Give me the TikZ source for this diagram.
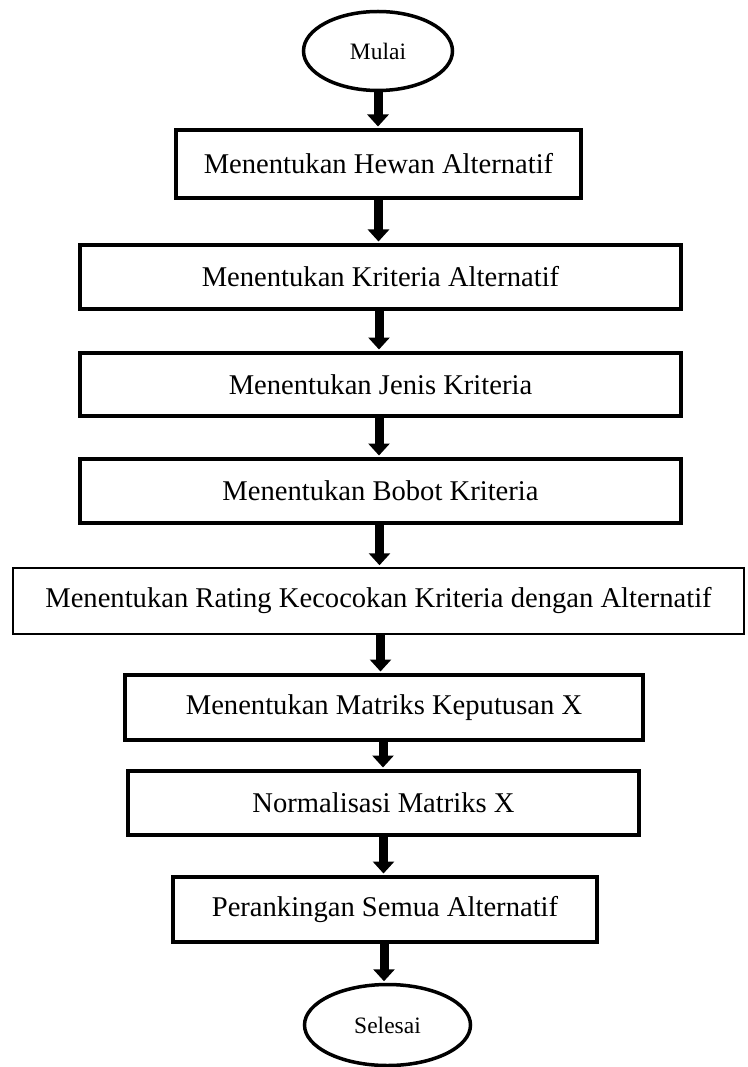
\documentclass[tikz,border=0pt]{standalone}
\usepackage{fontspec}
\setmainfont{Liberation Serif}
\usetikzlibrary{shapes.geometric,arrows.meta}
\begin{document}
\begin{tikzpicture}[x=1pt,y=-1pt,
  stepbox/.style={draw, line width=4pt, rectangle, inner sep=0pt, align=center,
    font=\fontsize{28.6}{34}\selectfont},
  thinbox/.style={draw, line width=2.5pt, rectangle, inner sep=0pt, align=center,
    font=\fontsize{28.6}{34}\selectfont},
  term/.style={draw, line width=3.5pt, ellipse, inner sep=0pt,
    font=\fontsize{23.5}{28}\selectfont},
  arr/.style={line width=9pt, -{Triangle[width=21pt,length=12pt]}, shorten >=1.5pt}
]
\useasboundingbox (0,0) rectangle (747,1067);
\fill[white] (0,0) rectangle (747,1067);

\node[term, minimum width=149pt, minimum height=79pt] (start) at (378,51) {Mulai};
\node[stepbox, minimum width=405pt, minimum height=68pt] (b1) at (378.5,164) {Menentukan Hewan Alternatif};
\node[stepbox, minimum width=601pt, minimum height=64pt] (b2) at (380.5,277) {Menentukan Kriteria Alternatif};
\node[stepbox, minimum width=601pt, minimum height=63pt] (b3) at (380.5,384.5) {Menentukan Jenis Kriteria};
\node[stepbox, minimum width=601pt, minimum height=64pt] (b4) at (380.5,491) {Menentukan Bobot Kriteria};
\node[thinbox, minimum width=731pt, minimum height=66pt] (b5) at (378.5,601) {Menentukan Rating Kecocokan Kriteria dengan Alternatif};
\node[stepbox, minimum width=518pt, minimum height=65pt] (b6) at (384,707.5) {Menentukan Matriks Keputusan X};
\node[stepbox, minimum width=511pt, minimum height=64pt] (b7) at (383.5,803) {Normalisasi Matriks X};
\node[stepbox, minimum width=424pt, minimum height=65pt] (b8) at (385,909.5) {Perankingan Semua Alternatif};
\node[term, minimum width=166pt, minimum height=81pt] (end) at (387.5,1025) {Selesai};

\draw[arr] (start.south) -- (start.south |- b1.north);
\draw[arr] (b1.south) -- (b1.south |- b2.north);
\draw[arr] ([xshift=-1.5pt]b2.south) -- ([xshift=-1.5pt]b2.south |- b3.north);
\draw[arr] ([xshift=-1.5pt]b3.south) -- ([xshift=-1.5pt]b3.south |- b4.north);
\draw[arr] ([xshift=-1pt]b4.south) -- ([xshift=-1pt]b4.south |- b5.north);
\draw[arr] ([xshift=2pt]b5.south) -- ([xshift=2pt]b5.south |- b6.north);
\draw[arr] ([xshift=-1pt]b6.south) -- ([xshift=-1pt]b6.south |- b7.north);
\draw[arr] (b7.south) -- (b7.south |- b8.north);
\draw[arr] ([xshift=-1pt]b8.south) -- ([xshift=-1pt]b8.south |- end.north);
\end{tikzpicture}
\end{document}
